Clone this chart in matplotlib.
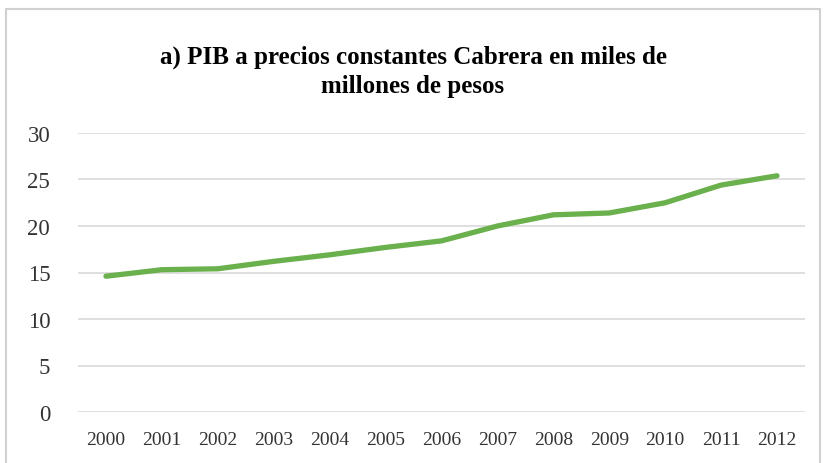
import matplotlib.pyplot as plt
from matplotlib.patches import Rectangle

# Data
years = ['2000', '2001', '2002', '2003', '2004', '2005', '2006',
         '2007', '2008', '2009', '2010', '2011', '2012']
pib = [14.6, 15.3, 15.4, 16.2, 16.9, 17.7, 18.4,
       20.0, 21.2, 21.4, 22.5, 24.4, 25.4]
yticks = [0, 5, 10, 15, 20, 25, 30]

plt.rcParams['font.family'] = ['Liberation Serif', 'DejaVu Serif']

fig = plt.figure(figsize=(8.26, 4.64), dpi=100)
ax = fig.add_axes([78/826, 1-413/464, 727/826, (413-134)/464])

x = range(len(years))
ax.plot(x, pib, color='#6ab04c', lw=3.8, solid_capstyle='round')

ax.set_xlim(-0.5, len(years) - 0.5)
ax.set_ylim(0, 30)
ax.set_yticks(yticks)
ax.set_xticks(list(x))
ax.set_xticklabels(years)
ax.grid(axis='y', color='#d9d9d9', lw=1.2)
ax.set_axisbelow(True)
for s in ax.spines.values():
    s.set_visible(False)
ax.tick_params(axis='both', length=0)
ax.tick_params(axis='x', labelsize=14, pad=14, colors='#333333')
ax.tick_params(axis='y', labelsize=16.5, pad=20, colors='#333333')

fig.text(0.5, 0.845, 'a) PIB a precios constantes Cabrera en miles de\nmillones de pesos',
         ha='center', va='center', fontsize=18, fontweight='bold', linespacing=1.35)

# outer chart border
fig.patches.append(Rectangle((6/826, -0.05), 814/826, 1.05 - 10/464,
                             transform=fig.transFigure, fill=False,
                             edgecolor='#d0d0d0', lw=1.5))

fig.savefig('out.png', dpi=100)
